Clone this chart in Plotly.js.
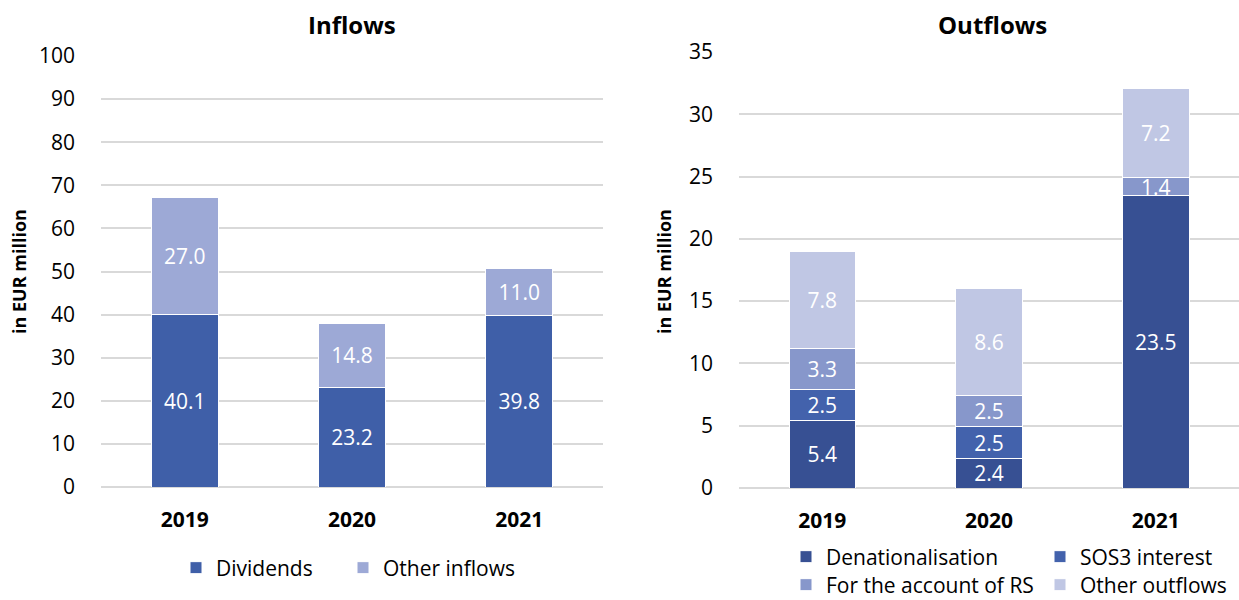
<!DOCTYPE html>
<html>
<head>
<meta charset="utf-8">
<script src="https://cdn.plot.ly/plotly-3.0.1.min.js"></script>
<style>html,body{margin:0;padding:0;background:#fff;}#chart{width:1239px;height:600px;}</style>
</head>
<body>
<div id="chart"></div>
<script>
const years = ['2019', '2020', '2021'];
const dividends = [40.1, 23.2, 39.8];
const otherInflows = [27.0, 14.8, 11.0];
const denationalisation = [5.4, 2.4, 23.5];
const sos3Interest = [2.5, 2.5, null];
const accountRS = [3.3, 2.5, 1.4];
const otherOutflows = [7.8, 8.6, 7.2];

const FONT = 'Open Sans, Noto Sans, sans-serif';
const W = 1239, H = 600;
const px = v => v / W;
const py = v => 1 - v / H;

function barTrace(name, y, color, xa, ya, legend) {
  return {
    type: 'bar', name: name, x: years, y: y,
    xaxis: xa, yaxis: ya, legend: legend,
    marker: {color: color, line: {color: '#ffffff', width: 1}},
    texttemplate: '%{y:.1f}', textposition: 'inside', insidetextanchor: 'middle',
    constraintext: 'none',
    textfont: {family: FONT, size: 21, color: '#ffffff'},
    hoverinfo: 'skip'
  };
}

const data = [
  barTrace('Dividends', dividends, '#3F5FA8', 'x', 'y', 'legend'),
  barTrace('Other inflows', otherInflows, '#9DA9D6', 'x', 'y', 'legend2'),
  barTrace('Denationalisation', denationalisation, '#375093', 'x2', 'y2', 'legend3'),
  barTrace('SOS3 interest', sos3Interest, '#4362AC', 'x2', 'y2', 'legend4'),
  barTrace('For the account of RS', accountRS, '#8797CB', 'x2', 'y2', 'legend5'),
  barTrace('Other outflows', otherOutflows, '#C0C7E4', 'x2', 'y2', 'legend6')
];

const xCommon = {
  type: 'category', showgrid: false, zeroline: false, showline: false, ticks: '',
  tickfont: {family: FONT, size: 21, color: '#000', weight: 'bold'},
  ticklabelstandoff: 18, fixedrange: true
};
const yCommon = {
  showgrid: true, gridcolor: '#d9d9d9', gridwidth: 2, zeroline: true, zerolinecolor: '#d9d9d9', zerolinewidth: 2,
  showline: false, ticks: '', tickfont: {family: FONT, size: 21, color: '#000'},
  ticklabelstandoff: 25, fixedrange: true
};
function leg(xPix, yPix) {
  return {
    orientation: 'h', xref: 'paper', yref: 'paper', xanchor: 'left', yanchor: 'middle',
    x: px(xPix), y: py(yPix),
    font: {family: FONT, size: 21, color: '#000'},
    bgcolor: 'rgba(0,0,0,0)', itemclick: false, itemdoubleclick: false
  };
}

const layout = {
  width: W, height: H,
  margin: {l: 0, r: 0, t: 0, b: 0, autoexpand: false},
  paper_bgcolor: '#ffffff', plot_bgcolor: '#ffffff',
  barmode: 'stack', bargap: 0.6,
  font: {family: FONT},
  xaxis: Object.assign({}, xCommon, {domain: [px(101), px(603)], anchor: 'y', automargin: false}),
  yaxis: Object.assign({}, yCommon, {domain: [py(487), py(56)], range: [0, 100], dtick: 10, anchor: 'x', automargin: false}),
  xaxis2: Object.assign({}, xCommon, {domain: [px(739), 1], anchor: 'y2', automargin: false}),
  yaxis2: Object.assign({}, yCommon, {domain: [py(488), py(52)], range: [0, 35], dtick: 5, anchor: 'x2', automargin: false}),
  legend: leg(176, 568),
  legend2: leg(343, 568),
  legend3: leg(786, 557),
  legend4: leg(1040, 557),
  legend5: leg(786, 585),
  legend6: leg(1040, 585),
  showlegend: true,
  annotations: [
    {text: '<b>Inflows</b>', xref: 'paper', yref: 'paper', x: px(352), y: py(24), showarrow: false,
     xanchor: 'center', yanchor: 'middle', font: {family: FONT, size: 24, color: '#000'}},
    {text: '<b>Outflows</b>', xref: 'paper', yref: 'paper', x: px(992), y: py(24), showarrow: false,
     xanchor: 'center', yanchor: 'middle', font: {family: FONT, size: 24, color: '#000'}},
    {text: '<b>in EUR million</b>', xref: 'paper', yref: 'paper', x: px(19), y: py(272), showarrow: false,
     textangle: -90, xanchor: 'center', yanchor: 'middle', font: {family: FONT, size: 18, color: '#000'}},
    {text: '<b>in EUR million</b>', xref: 'paper', yref: 'paper', x: px(664), y: py(272), showarrow: false,
     textangle: -90, xanchor: 'center', yanchor: 'middle', font: {family: FONT, size: 18, color: '#000'}}
  ]
};

Plotly.newPlot('chart', data, layout, {displayModeBar: false, staticPlot: true});
</script>
</body>
</html>
